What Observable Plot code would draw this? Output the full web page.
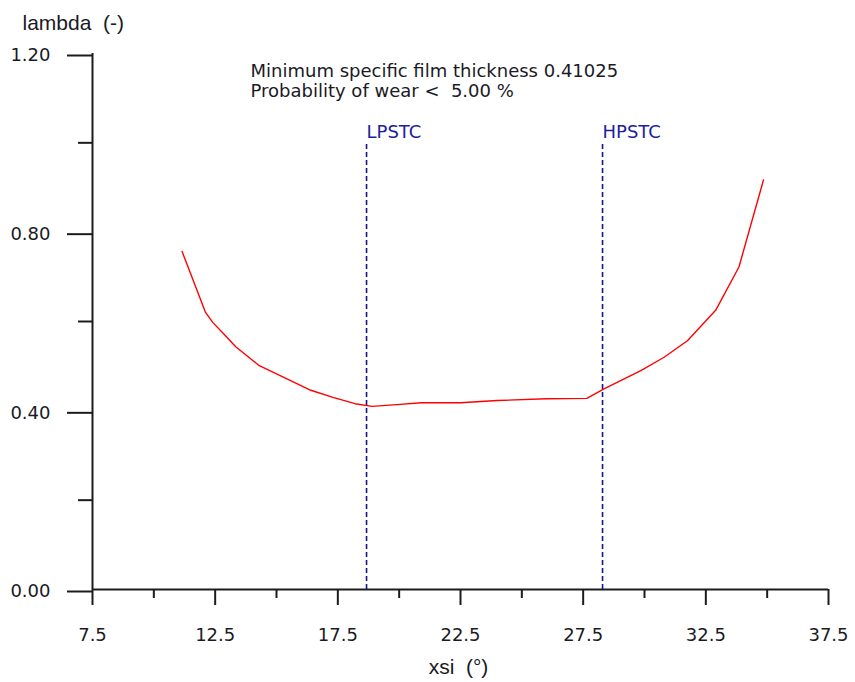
<!DOCTYPE html>
<html><head><meta charset="utf-8">
<script src="https://cdn.jsdelivr.net/npm/d3@7"></script>
<script src="https://cdn.jsdelivr.net/npm/@observablehq/plot@0.6"></script>
<style>
body{margin:0;background:#fff}
svg text{white-space:pre}
</style></head><body><div id="chart"></div>
<script>
// Curve: specific film thickness lambda vs xsi
const xsi    = [11.15, 12.1, 12.4, 12.9, 13.35, 14.3, 15.3, 16.4, 17.3, 18.2, 18.9, 19.9, 20.9, 22.5, 24.0, 26.0, 27.65, 28.35, 29.85, 30.8, 31.75, 32.9, 33.85, 34.85];
const lambda = [0.757, 0.621, 0.598, 0.569, 0.543, 0.501, 0.475, 0.446, 0.430, 0.416, 0.410, 0.414, 0.418, 0.418, 0.423, 0.427, 0.428, 0.449, 0.490, 0.520, 0.557, 0.625, 0.722, 0.917];

// Vertical markers
const markerNames = ["LPSTC", "HPSTC"];
const markerXsi   = [18.67, 28.29];
const markerTop   = 1.0;

// Ticks
const majorXTicks = [7.5, 12.5, 17.5, 22.5, 27.5, 32.5, 37.5];
const minorXTicks = [10, 15, 20, 25, 30, 35];
const majorYTicks = [0, 0.4, 0.8, 1.2];
const minorYTicks = [0.2, 0.6, 1.0];

// Texts
const annotationLines = ["Minimum specific film thickness 0.41025", "Probability of wear <  5.00 %"];
const xLabel = "xsi  (°)";
const yLabel = "lambda  (-)";

const curve = xsi.map((x, i) => ({xsi: x, lambda: lambda[i]}));
const markers = markerNames.map((n, i) => ({name: n, xsi: markerXsi[i]}));

const axisColor = "#1c1c1c";
const textColor = "#1a1a24";
const titleFont = "'Liberation Sans', Arial, sans-serif";

const chart = Plot.plot({
  width: 855, height: 682,
  marginLeft: 92, marginRight: 27, marginTop: 53, marginBottom: 93,
  style: {fontFamily: "'DejaVu Sans'", fontSize: "18px", color: textColor, background: "#fff"},
  x: {domain: [7.5, 37.5]},
  y: {domain: [0, 1.2]},
  marks: [
    Plot.axisX(majorXTicks, {tickSize: 16, tickPadding: 23, tickFormat: d => d.toFixed(1), stroke: axisColor, strokeWidth: 2, fill: textColor, label: null}),
    Plot.axisX(minorXTicks, {tickSize: 9, tickFormat: () => "", stroke: axisColor, strokeWidth: 2, label: null}),
    Plot.axisY(majorYTicks, {tickSize: 25, tickPadding: 17, dy: 2, tickFormat: d3.format(".2f"), stroke: axisColor, strokeWidth: 2, fill: textColor, label: null}),
    Plot.axisY(minorYTicks, {tickSize: 14, tickFormat: () => "", stroke: axisColor, strokeWidth: 2, label: null}),
    Plot.ruleY([0], {stroke: axisColor, strokeWidth: 2}),
    Plot.ruleX([7.5], {stroke: axisColor, strokeWidth: 2}),
    Plot.ruleX(markers, {x: "xsi", y1: () => 0, y2: () => markerTop, stroke: "#14148c", strokeWidth: 1.6, strokeDasharray: "5,3"}),
    Plot.text(markers, {x: "xsi", y: () => markerTop, text: "name", textAnchor: "start", lineAnchor: "top", dx: 0, dy: -18, fill: "#1c1ca0"}),
    Plot.line(curve, {x: "xsi", y: "lambda", stroke: "#ff0000", strokeWidth: 1.4}),
    Plot.text([annotationLines.join("\n")], {text: d => d, frameAnchor: "top-left", textAnchor: "start", lineAnchor: "top", lineHeight: 1.08, dx: 158, dy: 10, fill: textColor}),
    Plot.text([yLabel], {text: d => d, frameAnchor: "top-left", textAnchor: "start", lineAnchor: "top", dx: -70, dy: -38, fontFamily: titleFont, fontSize: 21, fill: textColor}),
    Plot.text([xLabel], {text: d => d, frameAnchor: "bottom", textAnchor: "middle", lineAnchor: "top", dx: -2, dy: 70, fontFamily: titleFont, fontSize: 21, fill: textColor})
  ]
});
document.getElementById("chart").appendChild(chart);
</script>
</body></html>
